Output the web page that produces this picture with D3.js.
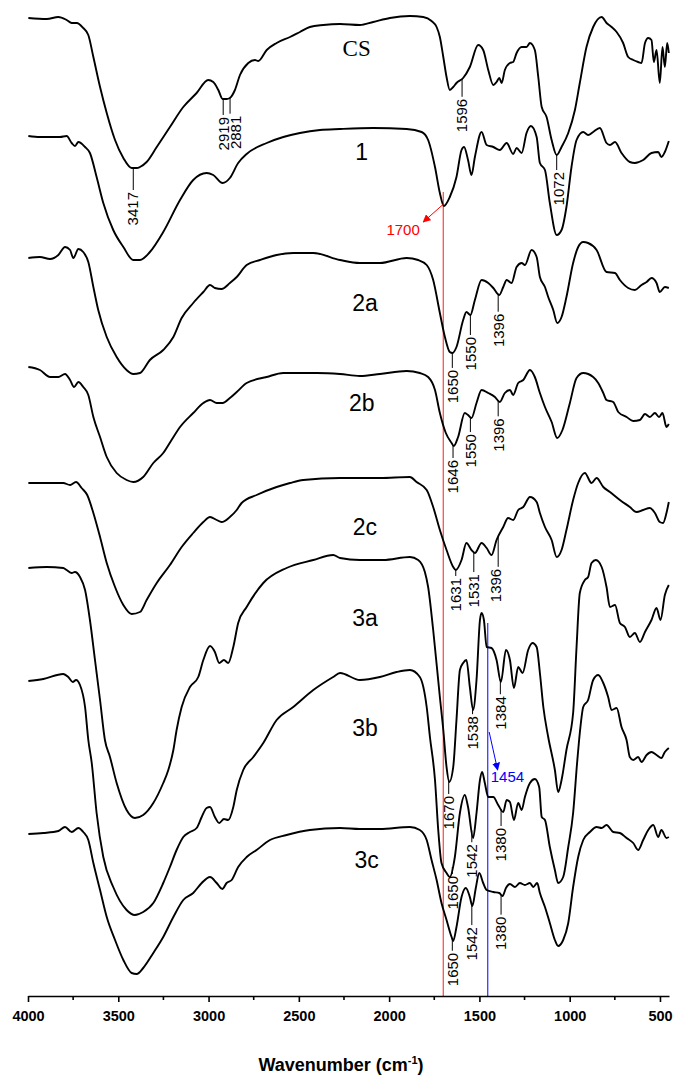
<!DOCTYPE html>
<html lang="en">
<head>
  <meta charset="utf-8">
  <title>FTIR spectra</title>
  <style>
    body { margin: 0; background: #fff; }
    svg { display: block; }
    .axis text { font-family: Arial, "Liberation Sans", sans-serif; font-weight: bold; font-size: 14.5px; }
    .axis path, .axis line { stroke: #000; stroke-width: 1.6px; }
    .peak { font-family: Arial, "Liberation Sans", sans-serif; font-size: 15px; fill: #000; }
    .name { font-family: Arial, "Liberation Sans", sans-serif; font-size: 23px; fill: #000; }
  </style>
  <script src="https://cdn.jsdelivr.net/npm/d3@7/dist/d3.min.js"></script>
</head>
<body>
<div id="chart"></div>
<script>

// wavenumber (cm-1) / transmittance (a.u., offset for stacking)
var specCS = [[3998,97.8],[3896,97.7],[3832,97.9],[3786,97.6],[3758,97.3],[3730,97.3],[3694,96.8],[3666,96.1],[3638,93.9],[3601,90.9],[3564,88.3],[3518,85.6],[3472,83.8],[3426,82.8],[3398,82.8],[3380,82.9],[3343,83.4],[3287,84.9],[3214,86.9],[3140,88.9],[3066,90.3],[3002,91.6],[2974,91.4],[2946,90.6],[2922,89.7],[2900,89.7],[2882,89.8],[2854,90.6],[2826,92.1],[2780,93.3],[2743,93.6],[2725,93.5],[2678,94.6],[2623,95.3],[2549,95.9],[2494,96.4],[2439,96.9],[2365,97.1],[2272,97.2],[2162,97.1],[2088,97.4],[1996,97.8],[1885,98.0],[1811,97.9],[1765,97.5],[1737,96.9],[1719,95.9],[1700,93.9],[1682,91.9],[1664,90.6],[1645,90.9],[1627,91.3],[1590,91.8],[1553,92.9],[1507,95.1],[1479,94.6],[1451,92.6],[1423,91.1],[1405,91.4],[1390,91.8],[1377,91.3],[1359,92.6],[1331,93.3],[1313,93.4],[1294,94.3],[1266,94.9],[1239,94.9],[1220,95.3],[1193,94.6],[1174,91.9],[1155,88.9],[1128,87.9],[1100,85.6],[1072,84.1],[1045,84.9],[1008,86.3],[971,88.6],[944,91.3],[907,94.9],[870,96.9],[823,97.9],[796,97.3],[768,96.9],[740,96.4],[704,95.3],[676,93.9],[648,93.6],[621,93.4],[602,93.3],[583,95.3],[565,95.8],[547,95.6],[534,93.4],[519,94.6],[501,91.3],[486,94.9],[473,92.9],[460,95.3],[451,94.3]];

var spec1 = [[3998,86.0],[3934,85.9],[3823,85.9],[3786,86.0],[3758,85.3],[3740,85.0],[3721,85.4],[3684,84.9],[3657,84.3],[3620,81.9],[3583,79.3],[3528,76.6],[3472,74.9],[3417,73.6],[3380,73.6],[3325,74.4],[3251,76.4],[3158,79.6],[3085,81.6],[3011,82.3],[2974,82.1],[2922,81.3],[2882,81.8],[2836,83.3],[2789,84.2],[2678,85.3],[2586,85.9],[2494,86.3],[2383,86.6],[2272,86.7],[2088,86.8],[1903,86.7],[1820,86.4],[1784,85.6],[1746,82.9],[1719,80.3],[1697,79.0],[1664,79.9],[1627,81.9],[1599,84.6],[1585,84.9],[1563,83.6],[1544,82.1],[1525,83.9],[1488,86.4],[1460,85.1],[1423,84.9],[1387,84.6],[1349,85.3],[1313,84.2],[1294,84.8],[1266,84.3],[1239,86.3],[1215,87.0],[1183,85.9],[1165,83.3],[1137,82.6],[1110,79.3],[1072,76.1],[1045,76.6],[1018,78.9],[990,82.9],[962,85.6],[925,86.4],[898,86.1],[870,86.4],[833,86.8],[796,85.3],[777,85.1],[749,85.4],[713,84.3],[667,83.4],[639,83.3],[593,83.6],[547,84.3],[510,84.4],[492,83.9],[473,84.4],[451,85.5]];

var spec2a = [[3998,73.8],[3934,73.9],[3878,73.7],[3832,74.1],[3795,74.9],[3767,74.6],[3749,73.8],[3721,74.7],[3694,74.4],[3666,73.4],[3638,70.9],[3611,68.6],[3564,65.9],[3509,63.9],[3454,62.6],[3417,62.2],[3380,62.3],[3325,63.6],[3251,64.6],[3195,65.9],[3149,67.8],[3085,69.3],[3029,70.4],[2992,71.1],[2965,70.8],[2928,70.7],[2882,71.3],[2844,71.9],[2789,73.1],[2715,73.6],[2623,74.1],[2531,74.3],[2420,74.3],[2272,73.6],[2162,73.3],[2051,73.3],[1903,73.8],[1839,73.6],[1792,73.1],[1756,71.6],[1719,68.3],[1691,65.9],[1664,64.4],[1649,64.3],[1627,64.9],[1590,67.6],[1572,68.4],[1550,68.1],[1525,69.6],[1488,71.6],[1451,71.3],[1423,70.8],[1390,70.1],[1368,70.9],[1349,71.6],[1322,71.3],[1294,72.9],[1266,73.3],[1248,73.1],[1211,74.6],[1183,73.9],[1165,71.9],[1137,70.9],[1119,69.9],[1091,68.6],[1069,67.3],[1045,67.9],[1018,69.9],[981,73.3],[953,74.9],[925,75.4],[898,75.3],[851,74.6],[796,72.4],[749,72.3],[722,71.6],[676,70.8],[639,70.6],[602,71.1],[574,71.4],[547,71.8],[519,71.3],[501,70.4],[473,70.9],[451,70.8]];

var spec2b = [[3998,62.9],[3934,62.6],[3878,61.9],[3832,61.9],[3795,62.2],[3767,61.6],[3745,60.9],[3721,61.4],[3694,60.9],[3666,60.1],[3638,57.9],[3601,55.9],[3564,53.9],[3509,52.3],[3454,51.6],[3417,51.4],[3362,51.9],[3306,53.3],[3251,54.3],[3205,55.6],[3158,56.9],[3085,58.3],[3029,59.3],[2992,59.6],[2955,59.3],[2922,59.3],[2882,59.8],[2844,60.4],[2789,61.3],[2678,61.9],[2586,62.3],[2401,62.3],[2272,62.2],[2162,62.0],[2051,62.2],[1903,62.5],[1830,62.3],[1784,61.9],[1746,60.6],[1719,58.3],[1686,56.3],[1654,55.3],[1642,55.0],[1618,55.9],[1581,58.3],[1563,58.1],[1544,57.8],[1516,59.3],[1488,60.6],[1451,60.3],[1414,59.9],[1387,59.4],[1359,60.3],[1331,60.6],[1313,60.1],[1285,61.3],[1257,61.6],[1220,62.6],[1193,61.9],[1165,60.3],[1137,58.9],[1100,57.4],[1069,55.8],[1040,56.6],[999,59.3],[962,61.8],[925,62.3],[870,61.9],[842,61.3],[814,60.3],[796,59.6],[759,59.4],[731,58.4],[685,57.9],[648,57.5],[611,57.6],[583,58.2],[556,57.9],[528,58.3],[505,57.9],[486,58.3],[464,56.9],[451,57.2]];

var spec2c = [[3998,51.3],[3896,51.3],[3805,51.3],[3767,51.1],[3734,51.4],[3703,50.8],[3672,50.1],[3638,48.3],[3601,45.9],[3564,43.3],[3518,40.9],[3472,39.1],[3426,38.2],[3380,38.4],[3343,39.6],[3287,41.3],[3214,43.1],[3149,44.9],[3085,46.3],[3029,47.4],[2992,47.9],[2955,47.6],[2928,47.4],[2882,47.9],[2844,48.6],[2817,49.3],[2734,50.1],[2623,50.9],[2549,51.3],[2476,51.6],[2272,51.8],[2051,51.8],[1885,51.9],[1848,51.4],[1792,50.6],[1756,48.9],[1719,46.6],[1682,44.6],[1645,42.9],[1631,42.6],[1599,43.6],[1572,45.3],[1544,44.6],[1525,44.3],[1488,45.3],[1460,44.8],[1433,44.1],[1405,45.6],[1368,46.9],[1341,47.8],[1313,47.6],[1285,48.6],[1257,48.9],[1220,49.9],[1183,49.4],[1165,48.3],[1137,46.9],[1100,45.6],[1072,43.9],[1045,44.6],[1018,46.6],[981,49.6],[953,51.3],[916,52.3],[879,51.3],[851,51.8],[814,50.9],[777,50.4],[722,49.6],[667,48.9],[630,48.4],[593,48.6],[556,48.8],[528,48.3],[501,47.4],[483,47.3],[464,48.3],[451,49.4]];

var spec3a = [[3998,42.8],[3896,42.9],[3805,42.8],[3786,42.6],[3758,42.3],[3740,42.4],[3712,41.9],[3684,40.6],[3657,37.6],[3629,33.6],[3601,29.6],[3574,25.6],[3546,23.9],[3509,21.3],[3454,18.6],[3408,17.8],[3362,18.1],[3306,19.3],[3251,21.3],[3223,22.6],[3195,24.6],[3177,26.6],[3149,28.9],[3103,30.9],[3057,31.9],[3029,33.6],[2992,35.0],[2965,34.4],[2941,33.3],[2915,33.6],[2891,33.3],[2863,34.9],[2836,37.3],[2789,38.9],[2697,41.3],[2568,42.8],[2420,43.6],[2310,44.1],[2272,43.8],[2162,43.6],[2033,43.6],[1885,43.9],[1839,43.6],[1802,42.4],[1784,40.9],[1756,36.6],[1719,29.9],[1700,26.6],[1682,22.9],[1667,21.4],[1645,22.9],[1627,27.6],[1608,32.6],[1590,33.3],[1572,33.6],[1553,30.9],[1535,28.6],[1516,31.6],[1497,37.6],[1488,38.3],[1475,37.6],[1460,34.9],[1433,34.8],[1405,33.6],[1381,31.4],[1353,34.6],[1331,33.6],[1309,30.8],[1285,32.9],[1261,32.3],[1230,34.6],[1206,35.3],[1183,34.9],[1165,32.3],[1146,28.9],[1119,25.9],[1082,22.6],[1064,20.4],[1045,21.6],[1018,24.6],[981,28.3],[962,34.9],[944,40.3],[916,41.6],[898,41.9],[879,43.3],[855,43.6],[823,42.9],[796,40.9],[777,38.9],[749,39.1],[722,37.3],[694,36.9],[667,35.9],[639,36.3],[611,35.4],[583,36.4],[547,37.6],[519,38.8],[497,37.6],[473,40.1],[451,41.1]];

var spec3b = [[3998,31.5],[3915,31.7],[3805,32.2],[3777,31.9],[3752,31.4],[3734,31.6],[3712,31.1],[3684,28.9],[3666,25.6],[3647,23.3],[3620,18.3],[3583,13.9],[3528,10.9],[3454,8.6],[3408,8.1],[3362,8.4],[3306,9.3],[3251,11.3],[3214,12.9],[3177,14.6],[3140,15.9],[3103,16.4],[3066,16.8],[3038,17.9],[3011,18.8],[2992,18.9],[2965,17.9],[2941,17.3],[2915,17.7],[2891,17.6],[2863,18.9],[2844,20.6],[2808,22.6],[2752,23.9],[2697,25.3],[2623,27.6],[2531,28.9],[2420,30.6],[2310,31.9],[2272,32.3],[2162,31.6],[2051,31.9],[1959,32.4],[1885,32.6],[1830,31.9],[1792,28.9],[1774,25.9],[1746,21.6],[1728,16.6],[1710,13.3],[1682,12.3],[1664,11.9],[1636,13.9],[1608,18.3],[1581,20.1],[1563,18.9],[1535,15.8],[1516,18.3],[1497,21.6],[1485,22.4],[1470,21.3],[1451,19.9],[1423,19.9],[1396,19.1],[1368,18.4],[1349,19.6],[1331,19.4],[1309,17.6],[1285,19.3],[1266,18.6],[1248,19.9],[1220,21.3],[1193,21.7],[1169,20.9],[1155,17.9],[1137,17.6],[1110,14.9],[1082,12.6],[1064,11.3],[1036,11.9],[1008,14.9],[981,18.3],[959,23.3],[944,26.3],[925,28.9],[898,29.6],[870,31.6],[842,32.1],[814,31.3],[787,29.9],[768,28.6],[740,28.8],[713,26.9],[685,25.6],[667,23.9],[648,23.6],[621,23.9],[602,23.4],[574,24.1],[547,24.4],[519,24.1],[492,23.8],[473,24.4],[451,24.8]];

var spec3c = [[3998,16.2],[3915,16.3],[3832,16.5],[3795,16.9],[3758,16.4],[3721,16.8],[3694,16.4],[3666,15.6],[3638,13.3],[3601,10.6],[3564,7.9],[3518,5.6],[3472,3.6],[3426,2.3],[3398,2.2],[3362,2.8],[3306,4.3],[3251,5.9],[3195,7.9],[3140,9.6],[3085,10.3],[3038,11.3],[2992,11.9],[2955,11.3],[2924,10.7],[2900,11.3],[2872,11.6],[2836,12.9],[2789,13.9],[2734,14.6],[2660,15.6],[2568,16.1],[2439,16.6],[2272,16.8],[2162,16.7],[2051,16.7],[1885,16.9],[1830,16.6],[1792,15.6],[1765,13.6],[1737,11.6],[1710,9.3],[1682,7.6],[1654,5.9],[1645,5.5],[1627,6.9],[1599,9.9],[1575,10.8],[1553,9.9],[1539,9.0],[1520,10.8],[1501,12.3],[1479,11.3],[1460,10.6],[1423,10.4],[1390,10.3],[1372,10.0],[1353,10.8],[1331,11.2],[1303,10.9],[1276,11.3],[1248,11.1],[1220,11.3],[1202,10.9],[1180,11.3],[1165,10.3],[1137,8.9],[1110,7.3],[1082,5.6],[1064,5.0],[1036,5.6],[1008,7.3],[981,10.9],[953,13.9],[925,15.6],[888,16.4],[851,16.9],[823,16.8],[796,17.1],[759,16.4],[722,16.3],[685,15.8],[648,15.3],[621,14.6],[593,15.6],[565,16.6],[537,17.1],[510,15.9],[492,16.6],[464,15.8],[451,15.9]];

var sampleNames = ["CS", "1", "2a", "2b", "2c", "3a", "3b", "3c"];
var spectra = [specCS, spec1, spec2a, spec2b, spec2c, spec3a, spec3b, spec3c];

// labelled peaks (cm-1) per sample
var peaksCS = [3417, 2919, 2881, 1596, 1072];
var peaks1  = [];
var peaks2a = [1650, 1550, 1396];
var peaks2b = [1646, 1550, 1396];
var peaks2c = [1631, 1531, 1396];
var peaks3a = [1670, 1538, 1384];
var peaks3b = [1650, 1542, 1380];
var peaks3c = [1650, 1542, 1380];
var peaks = [peaksCS, peaks1, peaks2a, peaks2b, peaks2c, peaks3a, peaks3b, peaks3c];

var xTicks = [4000, 3500, 3000, 2500, 2000, 1500, 1000, 500];
var xMinor = [3750, 3250, 2750, 2250, 1750, 1250, 750];

var redMark = 1700;
var blueMark = 1454;

// ---- layout ----
var W = 673, H = 1077;
var x = d3.scaleLinear().domain([4000, 450]).range([28, 669]);
var y = d3.scaleLinear().domain([0, 100]).range([996, -4]);

// leader lengths (px) and text nudges for each peak label
var leaderLen = [[22, 16, 16, 18, 15], [], [15, 20, 18], [13, 15, 16], [6, 20, 30], [15, 8, 15], [7, 12, 17], [12, 21, 20]];
var textShift = [[-1, 0, 6, 0, 2], [], [0, 0, 0], [0, 0, 0], [0, 0, -3], [0, 0, 0], [0, 0, 0], [0, 0, 0]];
// name label positions [wavenumber, value]
var namePos = [[2180, 94.8], [2152, 84.4], [2134, 69.3], [2152, 59.3], [2134, 46.9], [2134, 37.8], [2134, 26.8], [2125, 13.6]];

var svg = d3.select('#chart').append('svg')
  .attr('width', W)
  .attr('height', H);

svg.append('rect').attr('width', W).attr('height', H).attr('fill', '#fff');

function valueAt(data, w) {
  for (var i = 0; i < data.length - 1; i++) {
    var a = data[i], b = data[i + 1];
    if (w <= a[0] && w >= b[0]) {
      var t = (a[0] - w) / (a[0] - b[0]);
      return a[1] + t * (b[1] - a[1]);
    }
  }
  return data[data.length - 1][1];
}

// marker lines
svg.append('line')
  .attr('x1', x(redMark)).attr('x2', x(redMark))
  .attr('y1', y(80.4)).attr('y2', y(0))
  .attr('stroke', '#ff5050').attr('stroke-width', 1.3);
svg.append('line')
  .attr('x1', x(blueMark)).attr('x2', x(blueMark))
  .attr('y1', y(37.3)).attr('y2', y(0))
  .attr('stroke', '#3a3aff').attr('stroke-width', 1.3);

// spectra
var line = d3.line()
  .x(function(d) { return x(d[0]); })
  .y(function(d) { return y(d[1]); })
  .curve(d3.curveMonotoneX);

svg.selectAll('path.spec')
  .data(spectra)
  .enter().append('path')
  .attr('class', 'spec')
  .attr('d', line)
  .attr('fill', 'none')
  .attr('stroke', '#000')
  .attr('stroke-width', 1.9)
  .attr('stroke-linejoin', 'round');

// sample names
svg.selectAll('text.name')
  .data(sampleNames)
  .enter().append('text')
  .attr('class', 'name')
  .attr('x', function(d, i) { return x(namePos[i][0]); })
  .attr('y', function(d, i) { return y(namePos[i][1]); })
  .attr('dy', '0.35em')
  .attr('text-anchor', 'middle')
  .style('font-family', function(d) { return d === 'CS' ? '"Liberation Serif", "Times New Roman", serif' : null; })
  .text(function(d) { return d; });

// peak labels
peaks.forEach(function(list, si) {
  list.forEach(function(p, k) {
    var px = x(p);
    var py = y(valueAt(spectra[si], p));
    var len = leaderLen[si][k];
    svg.append('line')
      .attr('x1', px).attr('x2', px)
      .attr('y1', py).attr('y2', py + len)
      .attr('stroke', '#000').attr('stroke-width', 1);
    svg.append('text')
      .attr('class', 'peak')
      .attr('transform', 'translate(' + (px + textShift[si][k]) + ',' + (py + len + 2) + ') rotate(-90)')
      .attr('text-anchor', 'end')
      .attr('dy', '0.36em')
      .text(p);
  });
});

// arrows
var defs = svg.append('defs');
[['arrRed', '#ff0000'], ['arrBlue', '#0000ff']].forEach(function(m) {
  defs.append('marker')
    .attr('id', m[0])
    .attr('viewBox', '0 0 10 10')
    .attr('refX', 9).attr('refY', 5)
    .attr('markerWidth', 8).attr('markerHeight', 8)
    .attr('markerUnits', 'userSpaceOnUse')
    .attr('orient', 'auto')
    .append('path')
    .attr('d', 'M0,0 L10,5 L0,10 z')
    .attr('fill', m[1]);
});

svg.append('line')
  .attr('x1', x(redMark)).attr('y1', y(valueAt(spec1, redMark)))
  .attr('x2', x(1811)).attr('y2', y(77.4))
  .attr('stroke', '#ff0000').attr('stroke-width', 1)
  .attr('marker-end', 'url(#arrRed)');
svg.append('text')
  .attr('class', 'peak')
  .attr('x', x(1830)).attr('y', y(76.1))
  .attr('text-anchor', 'end')
  .style('fill', '#ff0000')
  .text(redMark);

svg.append('line')
  .attr('x1', x(1446)).attr('y1', y(26.4))
  .attr('x2', x(1399)).attr('y2', y(22.6))
  .attr('stroke', '#0000ff').attr('stroke-width', 1)
  .attr('marker-end', 'url(#arrBlue)');
svg.append('text')
  .attr('class', 'peak')
  .attr('x', x(1437)).attr('y', y(21.4))
  .style('fill', '#0000ff')
  .text(blueMark);

// x axis
var axis = svg.append('g')
  .attr('class', 'axis')
  .attr('transform', 'translate(0,' + y(0) + ')')
  .call(d3.axisBottom(x).tickValues(xTicks).tickSize(6).tickSizeOuter(0).tickPadding(9).tickFormat(d3.format('d')));

axis.selectAll('.minor')
  .data(xMinor)
  .enter().append('line')
  .attr('class', 'minor')
  .attr('x1', function(d) { return x(d); })
  .attr('x2', function(d) { return x(d); })
  .attr('y1', 0).attr('y2', 4);

var title = svg.append('text')
  .attr('x', 341)
  .attr('y', 1071)
  .attr('text-anchor', 'middle')
  .style('font-family', 'Arial, "Liberation Sans", sans-serif')
  .style('font-weight', 'bold')
  .style('font-size', '18px');
title.append('tspan').text('Wavenumber (cm');
title.append('tspan').attr('dy', -7).style('font-size', '11px').text('-1');
title.append('tspan').attr('dy', 7).text(')');

</script>
</body>
</html>
